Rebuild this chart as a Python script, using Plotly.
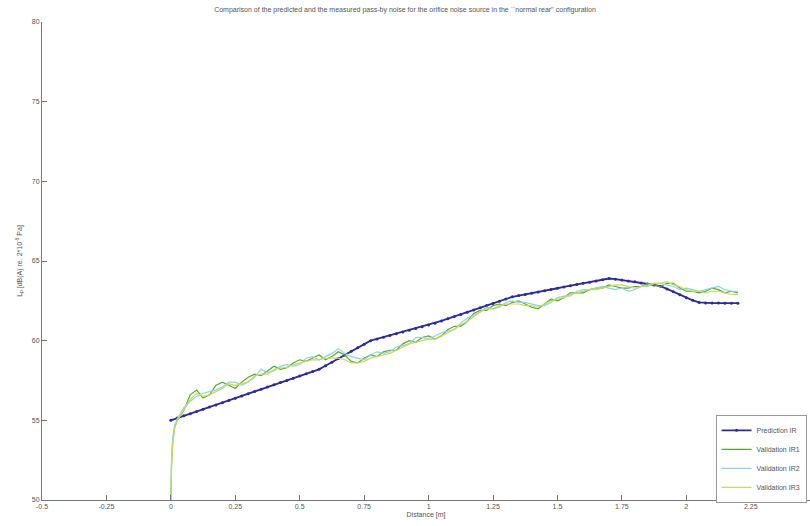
import numpy as np
import plotly.graph_objects as go

# ---- data ----
pred_dist_step = 0.025
prediction_ir = [
    55.00, 55.14, 55.28, 55.42, 55.56, 55.70, 55.83, 55.97, 56.11, 56.25,
    56.39, 56.53, 56.67, 56.81, 56.95, 57.09, 57.23, 57.37, 57.50, 57.64,
    57.78, 57.92, 58.06, 58.20, 58.43, 58.65, 58.88, 59.10, 59.33, 59.55,
    59.78, 60.00, 60.11, 60.22, 60.33, 60.44, 60.55, 60.66, 60.77, 60.88,
    60.99, 61.10, 61.24, 61.38, 61.51, 61.65, 61.79, 61.93, 62.06, 62.20,
    62.34, 62.48, 62.61, 62.75, 62.83, 62.90, 62.98, 63.06, 63.13, 63.21,
    63.29, 63.37, 63.44, 63.52, 63.60, 63.67, 63.75, 63.83, 63.90, 63.86,
    63.81, 63.75, 63.69, 63.62, 63.56, 63.50, 63.42, 63.25, 63.07, 62.88,
    62.70, 62.53, 62.40, 62.37, 62.36, 62.36, 62.35, 62.35, 62.35,
]

rise_dist = [0.0, 0.003, 0.008, 0.015, 0.025, 0.037]
val_start = 0.05
val_step = 0.025

validation_ir1 = [50.0, 52.5, 53.8, 54.6, 55.0, 55.3,
    55.6, 56.6, 56.9, 56.4, 56.6, 57.2, 57.4, 57.2, 57.0, 57.4,
    57.7, 57.9, 57.8, 58.1, 58.4, 58.2, 58.3, 58.6, 58.8, 58.7,
    58.9, 59.1, 58.8, 59.0, 59.3, 59.1, 58.7, 58.6, 58.9, 59.1,
    59.0, 59.3, 59.4, 59.4, 59.8, 60.0, 59.9, 60.2, 60.3, 60.1,
    60.3, 60.7, 60.9, 60.9, 61.2, 61.7, 61.9, 61.9, 62.2, 62.3,
    62.2, 62.4, 62.5, 62.3, 62.1, 62.0, 62.3, 62.6, 62.5, 62.7,
    63.0, 63.0, 63.0, 63.2, 63.3, 63.3, 63.5, 63.4, 63.3, 63.3,
    63.4, 63.4, 63.6, 63.5, 63.4, 63.6, 63.6, 63.3, 63.1, 63.1,
    63.0, 63.1, 63.3, 63.2, 63.0, 63.1, 63.0]

validation_ir2 = [50.0, 52.8, 54.0, 54.7, 55.1, 55.4,
    55.8, 56.2, 56.5, 56.7, 56.8, 56.9, 57.1, 57.4, 57.4, 57.2,
    57.4, 57.7, 58.2, 58.0, 58.1, 58.4, 58.5, 58.4, 58.5, 58.9,
    59.0, 58.8, 59.0, 59.2, 59.5, 59.2, 59.0, 58.9, 58.8, 59.1,
    59.3, 59.2, 59.3, 59.6, 59.7, 59.8, 60.2, 60.2, 60.1, 60.3,
    60.5, 60.6, 60.7, 61.1, 61.4, 61.6, 61.8, 62.1, 62.0, 62.1,
    62.4, 62.5, 62.4, 62.4, 62.3, 62.2, 62.2, 62.4, 62.7, 62.8,
    62.8, 63.1, 63.2, 63.2, 63.3, 63.4, 63.3, 63.2, 63.3, 63.1,
    63.2, 63.4, 63.4, 63.6, 63.6, 63.5, 63.4, 63.2, 63.3, 63.2,
    63.1, 63.2, 63.3, 63.4, 63.2, 63.1, 63.1]

validation_ir3 = [50.0, 52.2, 53.6, 54.5, 55.0, 55.3,
    55.6, 56.3, 56.7, 56.5, 56.6, 56.8, 57.0, 57.3, 57.2, 57.3,
    57.4, 57.8, 57.9, 57.9, 58.2, 58.3, 58.3, 58.5, 58.6, 58.7,
    58.8, 58.8, 58.9, 58.9, 58.9, 58.8, 58.6, 58.6, 58.7, 58.9,
    59.0, 59.1, 59.2, 59.4, 59.6, 59.8, 59.9, 60.0, 60.1, 60.1,
    60.3, 60.5, 60.7, 61.0, 61.2, 61.5, 61.8, 62.0, 62.0, 62.2,
    62.3, 62.3, 62.3, 62.2, 62.2, 62.1, 62.3, 62.5, 62.6, 62.7,
    62.9, 63.0, 63.1, 63.2, 63.2, 63.3, 63.4, 63.5, 63.5, 63.4,
    63.3, 63.4, 63.5, 63.6, 63.6, 63.7, 63.5, 63.4, 63.2, 63.1,
    63.1, 63.0, 63.1, 63.1, 63.0, 62.9, 62.9]

x_tick_vals = [-0.5, -0.25, 0, 0.25, 0.5, 0.75, 1, 1.25, 1.5, 1.75, 2, 2.25, 2.5]
x_tick_text = ["-0.5", "-0.25", "0", "0.25", "0.5", "0.75", "1", "1.25", "1.5", "1.75", "2", "2.25", "2.5"]
y_tick_vals = [50, 55, 60, 65, 70, 75, 80]

pred_dist = [round(i * pred_dist_step, 3) for i in range(len(prediction_ir))]
n_val = len(validation_ir1) - len(rise_dist)
val_dist = rise_dist + [round(val_start + i * val_step, 3) for i in range(n_val)]

font = "Liberation Sans, Arial, sans-serif"
fig = go.Figure()
fig.add_trace(go.Scatter(x=pred_dist, y=prediction_ir, name="Prediction IR",
                         mode="lines+markers",
                         line=dict(color="#2b2b9c", width=1.8),
                         marker=dict(color="#2b2b9c", size=3)))
fig.add_trace(go.Scatter(x=val_dist, y=validation_ir1, name="Validation IR1",
                         mode="lines", line=dict(color="#5aa536", width=1.2)))
fig.add_trace(go.Scatter(x=val_dist, y=validation_ir2, name="Validation IR2",
                         mode="lines", line=dict(color="#8ad6e6", width=1.2)))
fig.add_trace(go.Scatter(x=val_dist, y=validation_ir3, name="Validation IR3",
                         mode="lines", line=dict(color="#c9dc56", width=1.2)))

fig.update_layout(
    width=810, height=526,
    margin=dict(l=42, r=0, t=22, b=26, autoexpand=False),
    paper_bgcolor="white", plot_bgcolor="white",
    font=dict(family=font, size=7, color="#555"),
    title=dict(text="Comparison of the predicted and the measured pass-by noise for the orifice noise source in the ``normal rear'' configuration",
               x=0.5, xref="container", xanchor="center",
               y=0.986, yref="container", yanchor="top",
               pad=dict(t=0, b=0, l=0, r=0),
               font=dict(size=7, color="#555")),
    showlegend=True,
    legend=dict(x=0.877, y=-0.006, xanchor="left", yanchor="bottom",
                bgcolor="white", bordercolor="#999", borderwidth=1,
                font=dict(size=7, color="#555"), tracegroupgap=0,
                itemwidth=30),
)
fig.update_xaxes(range=[-0.5, 2.48], tickvals=x_tick_vals, ticktext=x_tick_text,
                 automargin=False,
                 showgrid=False, zeroline=False, showline=True, linecolor="#777",
                 linewidth=1, ticks="inside", ticklen=5, tickcolor="#777",
                 title=dict(text="Distance [m]", standoff=2, font=dict(size=7)))
fig.update_yaxes(range=[50, 80], tickvals=y_tick_vals,
                 automargin=False,
                 showgrid=False, zeroline=False, showline=True, linecolor="#777",
                 linewidth=1, ticks="inside", ticklen=5, tickcolor="#777",
                 title=dict(text="L<sub>p</sub> [dB(A) re. 2*10<sup>-5</sup> Pa]", standoff=8,
                            font=dict(size=7)))

fig.write_html("out.html",
               config={"displayModeBar": False},
               post_script="document.body.style.margin='0';document.body.style.padding='0';")
